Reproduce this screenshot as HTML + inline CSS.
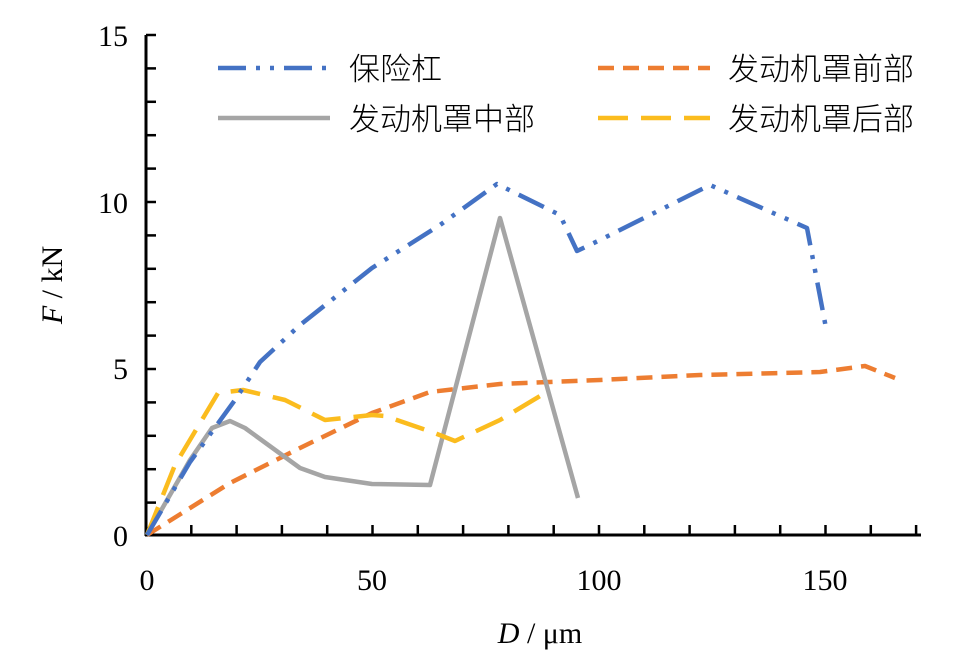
<!DOCTYPE html>
<html><head><meta charset="utf-8"><style>
html,body{margin:0;padding:0;background:#fff}
</style></head><body>
<svg width="967" height="666" xmlns="http://www.w3.org/2000/svg" font-family="Liberation Serif, serif">
<g stroke="#000" stroke-width="3" fill="none">
<line x1="146" y1="35" x2="146" y2="536"/>
<line x1="145" y1="535" x2="921" y2="535"/>
</g>
<g stroke="#000" stroke-width="2.5">
<line x1="146" y1="35" x2="156" y2="35"/><line x1="146" y1="68.4" x2="156" y2="68.4"/><line x1="146" y1="101.8" x2="156" y2="101.8"/><line x1="146" y1="135.2" x2="156" y2="135.2"/><line x1="146" y1="168.6" x2="156" y2="168.6"/><line x1="146" y1="202" x2="156" y2="202"/><line x1="146" y1="235.4" x2="156" y2="235.4"/><line x1="146" y1="268.8" x2="156" y2="268.8"/><line x1="146" y1="302.2" x2="156" y2="302.2"/><line x1="146" y1="335.6" x2="156" y2="335.6"/><line x1="146" y1="369" x2="156" y2="369"/><line x1="146" y1="402.4" x2="156" y2="402.4"/><line x1="146" y1="435.8" x2="156" y2="435.8"/><line x1="146" y1="469.2" x2="156" y2="469.2"/><line x1="146" y1="502.6" x2="156" y2="502.6"/>
<line x1="191.3" y1="535" x2="191.3" y2="525"/><line x1="236.6" y1="535" x2="236.6" y2="525"/><line x1="281.9" y1="535" x2="281.9" y2="525"/><line x1="327.2" y1="535" x2="327.2" y2="525"/><line x1="372.5" y1="535" x2="372.5" y2="525"/><line x1="417.8" y1="535" x2="417.8" y2="525"/><line x1="463.1" y1="535" x2="463.1" y2="525"/><line x1="508.4" y1="535" x2="508.4" y2="525"/><line x1="553.7" y1="535" x2="553.7" y2="525"/><line x1="599" y1="535" x2="599" y2="525"/><line x1="644.3" y1="535" x2="644.3" y2="525"/><line x1="689.6" y1="535" x2="689.6" y2="525"/><line x1="734.9" y1="535" x2="734.9" y2="525"/><line x1="780.2" y1="535" x2="780.2" y2="525"/><line x1="825.5" y1="535" x2="825.5" y2="525"/><line x1="870.8" y1="535" x2="870.8" y2="525"/><line x1="916.1" y1="535" x2="916.1" y2="525"/>
</g>
<g font-size="30" text-anchor="end" fill="#000">
<text x="128" y="46">15</text><text x="128" y="213">10</text><text x="128" y="379">5</text><text x="128" y="546">0</text>
</g>
<g font-size="30" text-anchor="middle" fill="#000">
<text x="147" y="590">0</text><text x="372" y="590">50</text><text x="599" y="590">100</text><text x="825" y="590">150</text>
</g>
<text x="540" y="643" font-size="30" text-anchor="middle"><tspan font-style="italic">D</tspan> / μm</text>
<text transform="translate(62,285) rotate(-90)" font-size="30" text-anchor="middle"><tspan font-style="italic">F</tspan> / kN</text>
<g fill="none" stroke-width="4.5" stroke-linejoin="round">
<polyline stroke="#ed7d31" stroke-dasharray="16,9" points="147,535 230,483 300,448 372,413 430,392 500,384 600,380 700,375 820,372 865,366 895,378"/>
<polyline stroke="#a5a5a5" points="147,535 190,460 212,428 230,421 245,428 300,468 325,477 372,484 430,485 500,218 578,498"/>
<polyline stroke="#fbbc1e" stroke-dasharray="30,13" points="147,535 175,465 218,393 243,390 285,400 325,420 372,415 385,416 432,432 455,441 500,420 550,390"/>
<polyline stroke="#4472c4" stroke-dasharray="28,10,4,10,4,10" points="147,535 190,462 235,400 260,362 300,325 372,268 440,225 497,184 560,215 577,251 600,240 710,185 807,228 826,328"/>
</g>
<g stroke-width="4.5" fill="none">
<line x1="218" y1="68" x2="330" y2="68" stroke="#4472c4" stroke-dasharray="28,10,4,10,4,10"/>
<line x1="598" y1="68" x2="710" y2="68" stroke="#ed7d31" stroke-dasharray="16,9"/>
<line x1="218" y1="118" x2="330" y2="118" stroke="#a5a5a5"/>
<line x1="598" y1="118" x2="710" y2="118" stroke="#fbbc1e" stroke-dasharray="30,13"/>
</g>
<g font-size="31" font-family="Liberation Sans, Noto Sans CJK SC, sans-serif" font-weight="300" fill="#000">
<text x="349" y="80">保险杠</text>
<text x="728" y="80">发动机罩前部</text>
<text x="349" y="130">发动机罩中部</text>
<text x="728" y="130">发动机罩后部</text>
</g>
</svg>
</body></html>
